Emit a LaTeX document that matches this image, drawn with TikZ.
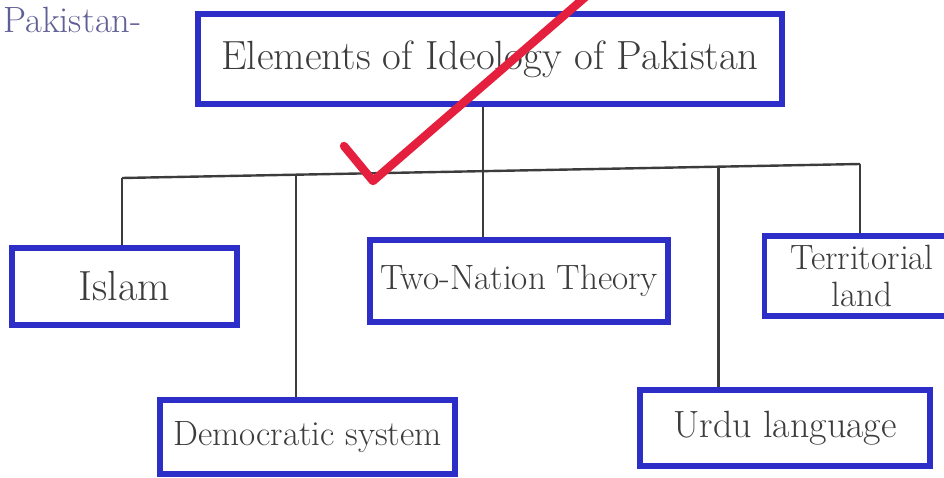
\documentclass[tikz,border=0pt]{standalone}
\usetikzlibrary{positioning, calc}

\definecolor{penblue}{RGB}{45,45,200}
\definecolor{inkgray}{RGB}{60,60,60}
\definecolor{tickred}{RGB}{228,32,62}
\definecolor{pencil}{RGB}{95,95,150}

\begin{document}
\begin{tikzpicture}[
    x=0.025cm, y=-0.025cm,
    box/.style      = {rectangle, draw=penblue, line width=1.3mm, text=inkgray, font=\fontsize{24}{28}\selectfont, inner sep=2pt, align=center},
    wire/.style     = {draw=inkgray, line width=0.6mm},
]
\useasboundingbox (0,0) rectangle (944,478);

% heading at the top left
\node[anchor=west, text=pencil, font=\fontsize{26}{28}\selectfont, inner sep=0pt] (head) at (3,20) {Pakistan-};

% top box
\node[box, minimum width=14.6cm, minimum height=2.25cm, font=\fontsize{29}{32}\selectfont] (top) at (490,59) {Elements of Ideology of Pakistan};

% upper row
\node[box, minimum width=5.625cm, minimum height=1.925cm, font=\fontsize{30}{32}\selectfont] (islam) at (124.5,286.5) {Islam};
\node[box, minimum width=7.45cm, minimum height=2.05cm, font=\fontsize{25}{28}\selectfont] (two) at (519,281) {Two-Nation Theory};
\node[box, minimum width=4.875cm, minimum height=2.0cm, font=\fontsize{25}{26}\selectfont] (terr) at (862,276) {Territorial\\land};

% lower row
\node[box, minimum width=7.375cm, minimum height=1.85cm, font=\fontsize{25}{28}\selectfont] (demo) at (307.5,437) {Democratic system};
\node[box, minimum width=7.25cm, minimum height=1.9cm, font=\fontsize{27}{30}\selectfont] (urdu) at (785,428) {Urdu language};

% bus line
\coordinate (busl) at (122,178);
\coordinate (busr) at (860,164);
\coordinate (busd) at ($(busl)!0.236!(busr)$);
\coordinate (bust) at ($(busl)!0.489!(busr)$);
\coordinate (busu) at ($(busl)!0.808!(busr)$);

% connectors
\draw[wire] (busl) -- (busr);
\draw[wire] (top.south -| bust) -- (bust |- two.north);
\draw[wire] (busl) -- (busl |- islam.north);
\draw[wire] (busd) -- (busd |- demo.north);
\draw[wire] (busu) -- (busu |- urdu.north);
\draw[wire] (busr) -- (busr |- terr.north);

% tick mark
\coordinate (tick1) at (344,146);
\coordinate (tick2) at (373,181);
\coordinate (tick3) at (605,-20);
\draw[draw=tickred, line width=2.1mm, line join=round, line cap=round] (tick1) -- (tick2) -- (tick3);

\end{tikzpicture}
\end{document}
